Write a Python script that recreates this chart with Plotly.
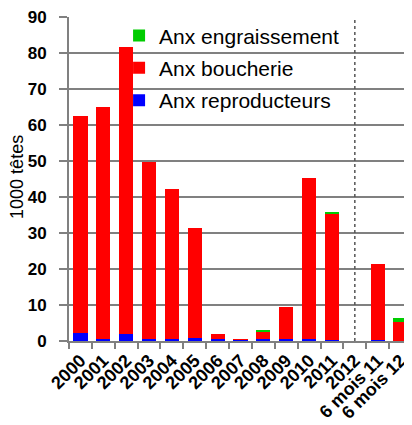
import plotly.graph_objects as go

categories = ["2000", "2001", "2002", "2003", "2004", "2005", "2006", "2007",
              "2008", "2009", "2010", "2011", "2012", "6 mois 11", "6 mois 12"]
reproducteurs = [2.3, 0.5, 2.0, 0.5, 0.5, 0.9, 0.5, 0.3, 0.5, 0.5, 0.5, 0.3, 0, 0.3, 0]
boucherie = [60.2, 64.4, 79.6, 49.3, 41.6, 30.5, 1.4, 0.25, 2.0, 8.95, 44.8, 35.0, 0, 21.2, 5.2]
engraissement = [0, 0, 0, 0, 0, 0, 0, 0, 0.5, 0, 0, 0.3, 0, 0, 1.1]
separator_category = "2012"
y_title = "1000 têtes"

FONT = "Liberation Sans, Arial, sans-serif"

fig = go.Figure()
fig.add_trace(go.Bar(x=categories, y=reproducteurs, name="Anx reproducteurs",
                     marker=dict(color="#0000FF", line=dict(width=0)), width=0.62,
                     legendgroup="c", legendrank=3))
fig.add_trace(go.Bar(x=categories, y=boucherie, name="Anx boucherie",
                     marker=dict(color="#FF0000", line=dict(width=0)), width=0.62,
                     legendgroup="b", legendrank=2))
fig.add_trace(go.Bar(x=categories, y=engraissement, name="Anx engraissement",
                     marker=dict(color="#00CC00", line=dict(width=0)), width=0.62,
                     legendgroup="a", legendrank=1))

sep_idx = categories.index(separator_category)
fig.add_shape(type="line", xref="x", yref="paper", x0=sep_idx, x1=sep_idx, y0=0, y1=1,
              line=dict(color="#555555", width=1.5, dash="dot"))

fig.add_annotation(text=y_title, xref="paper", yref="paper", x=-0.152, y=0.506,
                   textangle=-90, showarrow=False, xanchor="center", yanchor="middle",
                   font=dict(size=18, family=FONT, color="black"))

fig.update_layout(
    width=404, height=417,
    margin=dict(l=61, r=0, t=9, b=84, autoexpand=False),
    barmode="stack",
    plot_bgcolor="white", paper_bgcolor="white",
    font=dict(family=FONT, color="black"),
    showlegend=True,
    legend=dict(x=0.146, y=1.005, xanchor="left", yanchor="top",
                traceorder="grouped", tracegroupgap=2,
                bgcolor="rgba(0,0,0,0)", font=dict(size=21, family=FONT),
                itemwidth=30),
    xaxis=dict(type="category", categoryorder="array", categoryarray=categories,
               range=[-0.5, len(categories) - 0.5], automargin=False,
               tickangle=-45, tickson="boundaries",
               ticks="outside", ticklen=6, tickcolor="#808080", tickwidth=2,
               showline=True, linecolor="#808080", linewidth=2,
               tickfont=dict(size=18, weight="bold"),
               showgrid=False),
    yaxis=dict(range=[0, 90], dtick=10, ticks="outside", ticklen=8,
               ticklabelstandoff=9, automargin=False, ticklabeloverflow="allow",
               tickcolor="#808080", tickwidth=2,
               showline=True, linecolor="#808080", linewidth=2,
               showgrid=True, gridcolor="#808080", gridwidth=1.5,
               tickfont=dict(size=17, weight="bold")),
)

fig.write_html("out.html")
